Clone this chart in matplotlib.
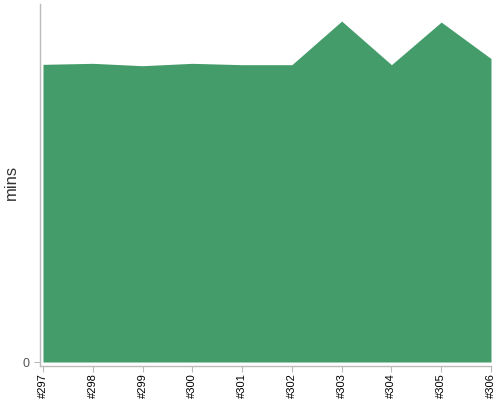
import matplotlib
matplotlib.use("Agg")
import matplotlib.pyplot as plt

builds = ["#297", "#298", "#299", "#300", "#301", "#302", "#303", "#304", "#305", "#306"]
mins = [8.73, 8.76, 8.69, 8.76, 8.72, 8.72, 10.0, 8.72, 9.97, 8.90]

plt.rcParams['font.family'] = ['Liberation Sans', 'DejaVu Sans']
fig = plt.figure(figsize=(5, 4), dpi=100)
ax = fig.add_axes([0.08, 0.085, 0.902, 0.905])
x = list(range(len(builds)))
ax.fill_between(x, 0, mins, color="#449c6b", linewidth=0)
ax.set_xlim(-0.06, len(builds) - 1)
ax.set_ylim(-0.117, 10.5)
for s in ["top", "right"]:
    ax.spines[s].set_visible(False)
for s in ["left", "bottom"]:
    ax.spines[s].set_color("#bbbbbb")
    ax.spines[s].set_linewidth(1)
ax.set_xticks(x)
ax.set_xticklabels(builds, rotation=90, fontsize=8, color="black")
ax.set_yticks([0])
ax.set_yticklabels(["0"], fontsize=9, color="#555555")
ax.tick_params(axis="both", color="#bbbbbb", length=4)
ax.tick_params(axis="x", pad=1)
ax.set_ylabel("mins", fontsize=12, color="#333333")
ax.yaxis.set_label_coords(-0.047, 0.508)
fig.savefig("out.png", dpi=100)
